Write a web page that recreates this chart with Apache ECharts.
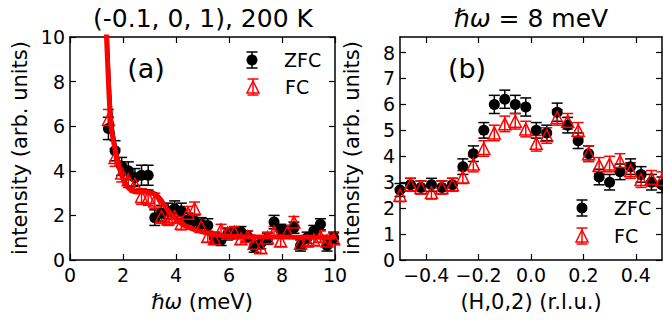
<!DOCTYPE html>
<html>
<head>
<meta charset="utf-8">
<script src="https://cdn.jsdelivr.net/npm/echarts@6/dist/echarts.min.js"></script>
<style>
  html, body { margin: 0; padding: 0; background: #fff; }
  #chart { width: 663px; height: 320px; }
</style>
</head>
<body>
<div id="chart"></div>
<script>
// ---- Panel (a): energy scan at (-0.1, 0, 1), 200 K ----
const energyA = [1.45, 1.70, 1.95, 2.20, 2.45, 2.70, 2.95, 3.20, 3.45, 3.70, 3.95, 4.20,
                 4.45, 4.70, 4.95, 5.20, 5.45, 5.70, 5.95, 6.20, 6.45, 6.70, 6.95, 7.20,
                 7.45, 7.70, 7.95, 8.20, 8.45, 8.70, 8.95, 9.20, 9.45, 9.70, 9.95];
const zfcA = [5.9, 4.9, 4.2, 4.0, 3.7, 3.8, 3.8, 1.9, 2.1, 2.2, 2.3, 2.2,
              1.8, 1.75, 1.6, 1.55, 1.0, 0.9, 1.15, 1.2, 1.25, 1.05, 0.6, 0.75,
              0.95, 1.7, 1.35, 1.3, 1.45, 0.65, 1.0, 1.3, 1.6, 0.65, 1.0];
const zfcAErr = [0.5, 0.45, 0.4, 0.4, 0.4, 0.45, 0.45, 0.35, 0.35, 0.35, 0.35, 0.35,
                 0.3, 0.3, 0.3, 0.3, 0.25, 0.25, 0.25, 0.25, 0.25, 0.25, 0.25, 0.25,
                 0.25, 0.3, 0.25, 0.25, 0.25, 0.25, 0.25, 0.25, 0.25, 0.25, 0.25];
const fcA = [6.3, 4.6, 3.9, 3.6, 3.4, 2.85, 2.8, 2.65, 1.95, 1.85, 1.95, 1.65,
             2.1, 2.3, 1.5, 1.05, 0.95, 1.35, 1.2, 1.25, 0.95, 1.05, 0.75, 0.55,
             1.0, 1.25, 0.85, 1.25, 1.7, 0.75, 0.85, 0.9, 1.05, 0.85, 0.95];
const fcAErr = [0.45, 0.4, 0.4, 0.35, 0.35, 0.35, 0.35, 0.35, 0.3, 0.3, 0.3, 0.3,
                0.3, 0.3, 0.25, 0.25, 0.25, 0.25, 0.25, 0.25, 0.25, 0.25, 0.25, 0.25,
                0.25, 0.25, 0.25, 0.25, 0.25, 0.25, 0.25, 0.25, 0.25, 0.25, 0.25];

// fitted curves (quasielastic tail + 3 meV mode + flat background)
const fitE = [1.30, 1.35, 1.40, 1.45, 1.50, 1.55, 1.60, 1.70, 1.80, 1.90, 2.00, 2.10,
              2.20, 2.35, 2.55, 2.80, 3.00, 3.15, 3.30, 3.45, 3.60, 3.75, 3.90, 4.10,
              4.30, 4.55, 4.80, 5.10, 5.40, 5.75, 6.15, 7.00, 8.00, 9.00, 10.0];
const fitZfc = [14.0, 11.8, 10.2, 8.7, 7.4, 6.5, 5.9, 5.15, 4.55, 4.08, 3.72, 3.47,
                3.3, 3.15, 3.1, 3.1, 3.08, 3.02, 2.9, 2.7, 2.43, 2.18, 1.97, 1.76,
                1.6, 1.46, 1.35, 1.25, 1.17, 1.12, 1.08, 1.05, 1.04, 1.03, 1.03];
const fitFc = [12.5, 10.8, 9.4, 8.0, 6.8, 6.0, 5.6, 4.95, 4.42, 3.98, 3.64, 3.4,
               3.24, 3.1, 3.05, 3.05, 3.03, 2.97, 2.85, 2.64, 2.38, 2.13, 1.93, 1.73,
               1.57, 1.43, 1.33, 1.23, 1.15, 1.1, 1.07, 1.04, 1.03, 1.02, 1.02];

// ---- Panel (b): constant-energy scan at 8 meV along (H,0,2) ----
const hB = [-0.50, -0.46, -0.42, -0.38, -0.34, -0.30, -0.26, -0.22, -0.18, -0.14, -0.10, -0.06, -0.02,
             0.02, 0.06, 0.10, 0.14, 0.18, 0.22, 0.26, 0.30, 0.34, 0.38, 0.42, 0.46, 0.50];
const zfcB = [2.7, 2.9, 2.8, 2.9, 2.8, 2.9, 3.6, 4.1, 5.0, 6.0, 6.2, 6.0, 5.9,
              5.0, 4.9, 5.7, 5.2, 4.6, 4.1, 3.2, 3.0, 3.4, 3.6, 3.3, 3.0, 2.9];
const zfcBErr = [0.25, 0.25, 0.25, 0.25, 0.25, 0.25, 0.3, 0.3, 0.3, 0.35, 0.35, 0.35, 0.35,
                 0.3, 0.3, 0.35, 0.3, 0.3, 0.3, 0.3, 0.3, 0.3, 0.3, 0.3, 0.3, 0.3];
const fcB = [2.5, 2.9, 2.8, 2.6, 2.8, 2.9, 3.2, 3.7, 4.3, 4.9, 5.25, 5.35, 5.05,
             4.5, 4.8, 5.5, 5.35, 5.0, 4.1, 3.65, 3.7, 3.8, 3.45, 3.1, 3.15, 3.1];
const fcBErr = [0.25, 0.25, 0.25, 0.25, 0.25, 0.25, 0.25, 0.3, 0.3, 0.3, 0.3, 0.3, 0.3,
                0.3, 0.3, 0.3, 0.3, 0.3, 0.3, 0.3, 0.3, 0.3, 0.3, 0.3, 0.3, 0.3];

// ---- tick labels ----
const ticksXA = [0, 2, 4, 6, 8, 10];
const ticksYA = [0, 2, 4, 6, 8, 10];
const ticksXB = [-0.4, -0.2, 0.0, 0.2, 0.4];
const ticksYB = [0, 1, 2, 3, 4, 5, 6, 7, 8];

const FONT = 'DejaVu Sans';
const RED = '#ff0000';
const BLACK = '#000000';

function zip3(xs, ys, es) { return xs.map((x, i) => [x, ys[i], es[i]]); }
function zip2(xs, ys) { return xs.map((x, i) => [x, ys[i]]); }

// vertical error bar with caps
function errorBarRenderer(color, capHalf) {
  return function (params, api) {
    const x = api.value(0), y = api.value(1), e = api.value(2);
    const hi = api.coord([x, y + e]);
    const lo = api.coord([x, y - e]);
    const st = { stroke: color, lineWidth: 1.5 };
    return {
      type: 'group',
      children: [
        { type: 'line', shape: { x1: hi[0], y1: hi[1], x2: lo[0], y2: lo[1] }, style: st },
        { type: 'line', shape: { x1: hi[0] - capHalf, y1: hi[1], x2: hi[0] + capHalf, y2: hi[1] }, style: st },
        { type: 'line', shape: { x1: lo[0] - capHalf, y1: lo[1], x2: lo[0] + capHalf, y2: lo[1] }, style: st }
      ]
    };
  };
}

function valueAxis(gridIndex, position, min, max, ticks, showLabels, fmt) {
  return {
    type: 'value', gridIndex, position, min, max,
    axisLine: { show: true, onZero: false, lineStyle: { color: BLACK, width: 1.5 } },
    axisTick: { show: true, inside: true, length: 6, customValues: ticks,
                lineStyle: { color: BLACK, width: 1.2 } },
    axisLabel: { show: showLabels, customValues: ticks, color: BLACK,
                 fontFamily: FONT, fontSize: 19, margin: 5, formatter: fmt },
    splitLine: { show: false }
  };
}

const fmtInt = v => String(Math.round(v));
const fmtB = v => {
  const s = Math.abs(v) < 1e-9 ? '0.0' : v.toFixed(1);
  return s.replace('-', '\u2212');
};

const chart = echarts.init(document.getElementById('chart'), null, { renderer: 'svg' });

const capHalf = 5.5;
const circleStyle = { color: BLACK, opacity: 1 };
const triangleStyle = { color: 'rgba(0,0,0,0)', borderColor: RED, borderWidth: 1.5, opacity: 1 };

const option = {
  animation: false,
  backgroundColor: '#ffffff',
  grid: [
    { left: 70, top: 37, width: 265, height: 223, containLabel: false },
    { left: 400, top: 37, width: 262, height: 223, containLabel: false }
  ],
  xAxis: [
    valueAxis(0, 'bottom', 0, 10, ticksXA, true, fmtInt),
    valueAxis(0, 'top', 0, 10, ticksXA, false),
    valueAxis(1, 'bottom', -0.5, 0.5, ticksXB, true, fmtB),
    valueAxis(1, 'top', -0.5, 0.5, ticksXB, false)
  ],
  yAxis: [
    valueAxis(0, 'left', 0, 10, ticksYA, true, fmtInt),
    valueAxis(0, 'right', 0, 10, ticksYA, false),
    valueAxis(1, 'left', 0, 8.6, ticksYB, true, fmtInt),
    valueAxis(1, 'right', 0, 8.6, ticksYB, false)
  ],
  series: [
    // panel (a) data
    { type: 'custom', name: 'ZFC err a', xAxisIndex: 0, yAxisIndex: 0,
      renderItem: errorBarRenderer(BLACK, capHalf), data: zip3(energyA, zfcA, zfcAErr),
      encode: { x: 0, y: 1 } },
    { type: 'scatter', name: 'ZFC a', xAxisIndex: 0, yAxisIndex: 0,
      symbol: 'circle', symbolSize: 11, itemStyle: circleStyle,
      data: zip2(energyA, zfcA) },
    { type: 'custom', name: 'FC err a', xAxisIndex: 0, yAxisIndex: 0,
      renderItem: errorBarRenderer(RED, capHalf), data: zip3(energyA, fcA, fcAErr),
      encode: { x: 0, y: 1 } },
    { type: 'scatter', name: 'FC a', xAxisIndex: 0, yAxisIndex: 0,
      symbol: 'triangle', symbolSize: 12, itemStyle: triangleStyle,
      data: zip2(energyA, fcA) },
    // panel (a) fits
    { type: 'line', name: 'ZFC fit', xAxisIndex: 0, yAxisIndex: 0,
      data: zip2(fitE, fitZfc), showSymbol: false, smooth: 0.3, clip: true,
      lineStyle: { color: BLACK, width: 3.5 } },
    { type: 'line', name: 'FC fit', xAxisIndex: 0, yAxisIndex: 0,
      data: zip2(fitE, fitFc), showSymbol: false, smooth: 0.3, clip: true,
      lineStyle: { color: RED, width: 5 } },
    // panel (b) data
    { type: 'custom', name: 'ZFC err b', xAxisIndex: 2, yAxisIndex: 2,
      renderItem: errorBarRenderer(BLACK, capHalf), data: zip3(hB, zfcB, zfcBErr),
      encode: { x: 0, y: 1 } },
    { type: 'scatter', name: 'ZFC b', xAxisIndex: 2, yAxisIndex: 2,
      symbol: 'circle', symbolSize: 11, itemStyle: circleStyle,
      data: zip2(hB, zfcB) },
    { type: 'custom', name: 'FC err b', xAxisIndex: 2, yAxisIndex: 2,
      renderItem: errorBarRenderer(RED, capHalf), data: zip3(hB, fcB, fcBErr),
      encode: { x: 0, y: 1 } },
    { type: 'scatter', name: 'FC b', xAxisIndex: 2, yAxisIndex: 2,
      symbol: 'triangle', symbolSize: 12, itemStyle: triangleStyle,
      data: zip2(hB, fcB) }
  ],
  graphic: []
};

// legend entries drawn as marker + error bar + label
function legendEntry(cx, cy, kind, label) {
  const color = kind === 'circle' ? BLACK : RED;
  const st = { stroke: color, lineWidth: 1.5 };
  const half = 8;
  const els = [
    { type: 'line', shape: { x1: cx, y1: cy - half, x2: cx, y2: cy + half }, style: st },
    { type: 'line', shape: { x1: cx - capHalf, y1: cy - half, x2: cx + capHalf, y2: cy - half }, style: st },
    { type: 'line', shape: { x1: cx - capHalf, y1: cy + half, x2: cx + capHalf, y2: cy + half }, style: st }
  ];
  if (kind === 'circle') {
    els.push({ type: 'circle', shape: { cx, cy, r: 5.5 }, style: { fill: BLACK } });
  } else {
    els.push({ type: 'polygon', shape: { points: [[cx, cy - 6], [cx + 6, cy + 6], [cx - 6, cy + 6]] },
               style: { fill: 'none', stroke: RED, lineWidth: 1.5 } });
  }
  els.push({ type: 'text', x: cx + 32, y: cy,
             style: { text: label, fill: BLACK, font: '19px "' + FONT + '"',
                      align: 'left', verticalAlign: 'middle' } });
  return els;
}

function txt(x, y, text, size, opts) {
  return Object.assign({
    type: 'text', x, y,
    style: Object.assign({ text, fill: BLACK, font: size + 'px "' + FONT + '"',
                           align: 'center', verticalAlign: 'middle' }, (opts && opts.style) || {})
  }, (opts && opts.el) || {});
}

const g = [];
// titles
g.push(txt(203, 18, '(-0.1, 0, 1), 200 K', 25));
g.push({
  type: 'text', x: 531, y: 18,
  style: {
    text: '{m|\u210F\u03C9} = 8 meV', fill: BLACK, font: '25px "' + FONT + '"',
    align: 'center', verticalAlign: 'middle',
    rich: { m: { fontStyle: 'italic', fontFamily: FONT, fontSize: 25 } }
  }
});
// axis titles
g.push(txt(20, 148, 'intensity (arb. units)', 21, { el: { rotation: Math.PI / 2 } }));
g.push(txt(352, 148, 'intensity (arb. units)', 21, { el: { rotation: Math.PI / 2 } }));
g.push({
  type: 'text', x: 202, y: 302,
  style: {
    text: '{m|\u210F\u03C9} (meV)', fill: BLACK, font: '21px "' + FONT + '"',
    align: 'center', verticalAlign: 'middle',
    rich: { m: { fontStyle: 'italic', fontFamily: FONT, fontSize: 21 } }
  }
});
g.push(txt(531, 302, '(H,0,2) (r.l.u.)', 21));
// panel tags
g.push(txt(146, 68, '(a)', 27));
g.push(txt(467, 68, '(b)', 27));
// legends
legendEntry(252, 60, 'circle', 'ZFC').forEach(e => g.push(e));
legendEntry(253, 87, 'triangle', 'FC').forEach(e => g.push(e));
legendEntry(582, 208, 'circle', 'ZFC').forEach(e => g.push(e));
legendEntry(582, 236, 'triangle', 'FC').forEach(e => g.push(e));

option.graphic = g;
chart.setOption(option);
</script>
</body>
</html>
